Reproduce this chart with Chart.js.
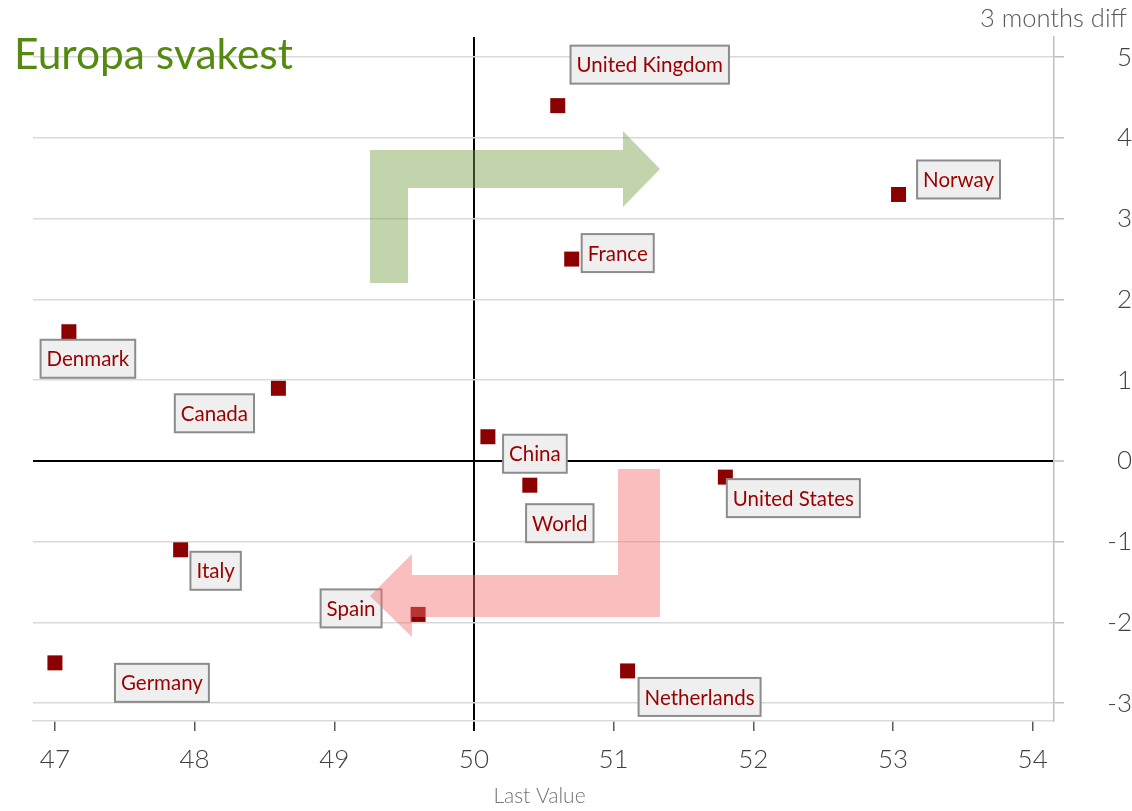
<!DOCTYPE html>
<html>
<head>
<meta charset="utf-8">
<title>Europa svakest</title>
<script src="https://cdn.jsdelivr.net/npm/chart.js@4.4.0/dist/chart.umd.min.js"></script>
<style>
  html, body { margin: 0; padding: 0; background: #ffffff; }
  #wrap { width: 1132px; height: 811px; position: relative; }
</style>
</head>
<body>
<div id="wrap"><canvas id="chart"></canvas></div>
<script>
const countries = ["United Kingdom", "Norway", "France", "Denmark", "Canada", "China", "World", "United States", "Italy", "Spain", "Germany", "Netherlands"];
const lastValue = [50.6, 53.04, 50.7, 47.1, 48.6, 50.1, 50.4, 51.8, 47.9, 49.6, 47.0, 51.1];
const diff3m = [4.4, 3.3, 2.5, 1.6, 0.9, 0.3, -0.3, -0.2, -1.1, -1.9, -2.5, -2.6];

const xTicks = [47, 48, 49, 50, 51, 52, 53, 54];
const yTicks = [5, 4, 3, 2, 1, 0, -1, -2, -3];

// where each data label box sits, in px from its point
const labelOffsets = [[92, -41], [60, -15], [46, -6], [19, 27], [-64, 25], [47, 17], [30, 38], [68, 21], [35, 21], [-67, -6], [107, 20], [72, 26]];

// arrow outlines in data units (x = last value, y = diff)
const greenArrow = [[49.256, 2.204], [49.256, 3.851], [51.067, 3.851], [51.067, 4.086], [51.332, 3.615], [51.067, 3.145], [51.067, 3.380], [49.528, 3.380], [49.528, 2.204]];
const redArrow = [[51.031, -0.099], [51.332, -0.099], [51.332, -1.932], [49.556, -1.932], [49.556, -2.180], [49.256, -1.672], [49.556, -1.152], [49.556, -1.412], [51.031, -1.412]];

const FONT = "Lato, 'Open Sans', sans-serif";
const labelColor = "#990000";
const markerColor = "#8b0000";

function byId(id) {
  return document.getElementById(id);
}

function drawShape(ctx, chart, points, fill) {
  const x = chart.scales.x;
  const y = chart.scales.y;
  ctx.beginPath();
  points.forEach(([vx, vy], i) => {
    const px = x.getPixelForValue(vx);
    const py = y.getPixelForValue(vy);
    if (i === 0) ctx.moveTo(px, py);
    else ctx.lineTo(px, py);
  });
  ctx.closePath();
  ctx.fillStyle = fill;
  ctx.fill();
}

const decorPlugin = {
  id: "decor",
  afterDatasetsDraw(chart) {
    const { ctx, chartArea } = chart;
    const x = chart.scales.x;
    const y = chart.scales.y;
    ctx.save();

    // data labels
    ctx.font = `20.5px ${FONT}`;
    ctx.textAlign = "center";
    ctx.textBaseline = "middle";
    countries.forEach((name, i) => {
      const cx = x.getPixelForValue(lastValue[i]) + labelOffsets[i][0];
      const cy = y.getPixelForValue(diff3m[i]) + labelOffsets[i][1];
      const w = ctx.measureText(name).width + 12;
      const h = 38;
      ctx.fillStyle = "#efefef";
      ctx.fillRect(cx - w / 2, cy - h / 2, w, h);
      ctx.lineWidth = 2;
      ctx.strokeStyle = "#8c8c8c";
      ctx.strokeRect(cx - w / 2, cy - h / 2, w, h);
      ctx.fillStyle = labelColor;
      ctx.fillText(name, cx, cy + 1);
    });

    // arrows
    drawShape(ctx, chart, greenArrow, "rgba(118,160,70,0.45)");
    drawShape(ctx, chart, redArrow, "rgba(245,110,110,0.45)");

    // texts
    ctx.textBaseline = "alphabetic";
    ctx.textAlign = "left";
    ctx.fillStyle = "#548a10";
    ctx.font = `42.5px ${FONT}`;
    ctx.fillText("Europa svakest", 14, 69);

    ctx.textAlign = "right";
    ctx.fillStyle = "#595959";
    ctx.font = `300 25.5px ${FONT}`;
    ctx.fillText("3 months diff", 1127, 27);

    ctx.textAlign = "center";
    ctx.fillStyle = "#737373";
    ctx.font = `300 21px ${FONT}`;
    ctx.fillText("Last Value", (chartArea.left + chartArea.right) / 2 - 4, 803);
    ctx.restore();
  },
};

function tickValue(ctx) {
  return ctx.tick ? ctx.tick.value : null;
}

new Chart(byId("chart"), {
  type: "scatter",
  data: {
    datasets: [{
      label: "3 months diff",
      data: lastValue.map((v, i) => ({ x: v, y: diff3m[i] })),
      pointStyle: "rect",
      pointRadius: 10.6,
      pointBorderWidth: 0,
      backgroundColor: markerColor,
      borderColor: markerColor,
    }],
  },
  options: {
    responsive: true,
    maintainAspectRatio: false,
    animation: false,
    layout: { padding: { left: 33, top: 37, right: 0, bottom: 0 } },
    plugins: { legend: { display: false }, tooltip: { enabled: false } },
    scales: {
      x: {
        type: "linear",
        position: "bottom",
        min: 46.843,
        max: 54.153,
        afterBuildTicks: (scale) => { scale.ticks = xTicks.map((v) => ({ value: v })); },
        afterFit: (scale) => { scale.height = 90; },
        grid: {
          drawOnChartArea: true,
          color: (ctx) => (tickValue(ctx) === 50 ? "#000000" : "rgba(0,0,0,0)"),
          lineWidth: (ctx) => (tickValue(ctx) === 50 ? 2 : 1.5),
          tickColor: (ctx) => (tickValue(ctx) === 50 ? "#000000" : "#595959"),
          tickLength: 10,
          tickWidth: (ctx) => (tickValue(ctx) === 50 ? 2 : 1.5),
        },
        border: { color: "#d9d9d9", width: 1.5 },
        ticks: {
          font: { family: FONT, size: 26, weight: 300 },
          color: "#404040",
          padding: 13,
          maxRotation: 0,
          callback: (v) => String(v),
        },
      },
      y: {
        type: "linear",
        position: "right",
        min: -3.22,
        max: 5.25,
        afterBuildTicks: (scale) => { scale.ticks = yTicks.map((v) => ({ value: v })); },
        afterFit: (scale) => { scale.width = 78; },
        grid: {
          color: (ctx) => (tickValue(ctx) === 0 ? "#000000" : "#d9d9d9"),
          lineWidth: (ctx) => (tickValue(ctx) === 0 ? 2 : 1.5),
          tickColor: "#bfbfbf",
          tickLength: 10,
          tickWidth: 1.5,
        },
        border: { color: "#bfbfbf", width: 1.5 },
        ticks: {
          font: { family: FONT, size: 26, weight: 300 },
          color: "#404040",
          crossAlign: "far",
          padding: 10,
          callback: (v) => String(v),
        },
      },
    },
  },
  plugins: [decorPlugin],
});
</script>
</body>
</html>
